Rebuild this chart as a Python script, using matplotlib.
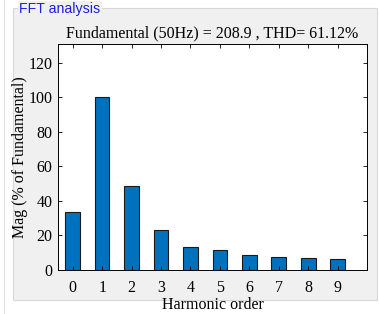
import numpy as np
import matplotlib.pyplot as plt
from matplotlib.patches import Rectangle

# harmonic spectrum, % of fundamental
orders = [0, 1, 2, 3, 4, 5, 6, 7, 8, 9]
mags = [33.8, 100, 48.8, 23.2, 13.3, 11.4, 8.5, 7.7, 6.9, 6.4]
title = "Fundamental (50Hz) = 208.9 , THD= 61.12%"

W, H = 379, 314
fig = plt.figure(figsize=(W / 100, H / 100), dpi=100)
fig.patch.set_facecolor('white')

# grey group panel behind the axes
panel = Rectangle((13 / W, 1 - 300 / H), (377 - 13) / W, (300 - 8) / H,
                  transform=fig.transFigure, facecolor='#f0f0f0',
                  edgecolor='#d8d8d8', linewidth=0.8, zorder=-5)
fig.patches.append(panel)
fig.add_artist(plt.Line2D([4 / W, 4 / W], [0, 1], transform=fig.transFigure,
                          color='#e0e0e0', linewidth=0.8, zorder=-5))
fig.text(19 / W, 1 - 9 / H, "FFT analysis", color='#1f1fdc', fontsize=10.2,
         family='Liberation Sans', va='center', ha='left',
         bbox=dict(facecolor='#f0f0f0', edgecolor='none', pad=1))

ax = fig.add_axes([58 / W, 1 - 270 / H, (367 - 58) / W, (270 - 44) / H])
ax.bar(orders, mags, width=0.5, color='#0072BD', edgecolor='#1a1a1a', linewidth=0.8)
ax.set_xlim(-0.5, 10)
ax.set_ylim(0, 131)
ax.set_xticks(orders)
ax.set_yticks(np.arange(0, 121, 20))
ax.tick_params(direction='in', top=True, right=True, length=3, width=0.6,
               labelsize=11.5)
ax.tick_params(axis='x', pad=7)
ax.tick_params(axis='y', pad=4)
for lab in ax.get_xticklabels() + ax.get_yticklabels():
    lab.set_family('Liberation Serif')
for s in ax.spines.values():
    s.set_linewidth(0.7)
ax.set_title(title, family='Liberation Serif', fontsize=11.5, pad=5)
ax.set_xlabel("Harmonic order", family='Liberation Serif', fontsize=11.5, labelpad=1)
ax.set_ylabel("Mag (% of Fundamental)", family='Liberation Serif', fontsize=11.5, labelpad=0)

fig.savefig('out.png', dpi=100)
